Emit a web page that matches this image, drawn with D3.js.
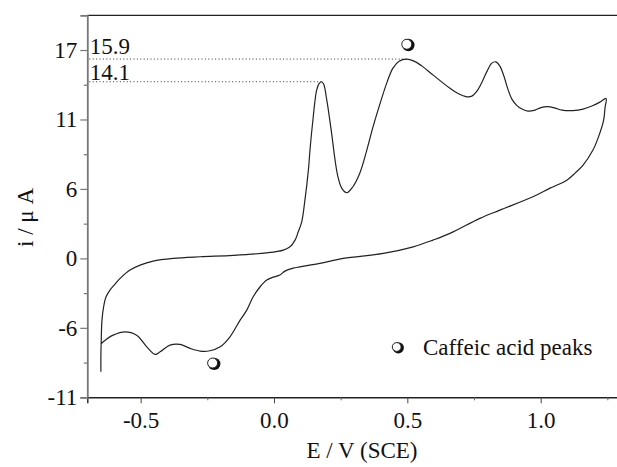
<!DOCTYPE html>
<html><head><meta charset="utf-8">
<script src="https://cdn.jsdelivr.net/npm/d3@7"></script>
<style>
body{margin:0;background:#fff}
svg text{font-family:"Liberation Serif","Tinos","Times New Roman",Times,"DejaVu Serif",serif !important;fill:#111}
</style>
</head><body>
<svg id="c" width="617" height="467"></svg>
<script>
// Forward (anodic) scan
const forwardE=[-0.649,-0.649,-0.648,-0.645,-0.639,-0.630,-0.615,-0.596,-0.577,-0.540,-0.502,-0.453,-0.378,-0.277,-0.153,-0.027,0.035,0.060,0.079,0.091,0.104,0.116,0.129,0.135,0.144,0.160,0.169,0.178,0.186,0.198,0.216,0.229,0.240,0.254,0.273,0.296,0.322,0.348,0.371,0.397,0.424,0.446,0.469,0.498,0.525,0.555,0.597,0.660,0.690,0.723,0.742,0.761,0.780,0.799,0.817,0.832,0.847,0.862,0.877,0.892,0.911,0.930,0.952,0.979,1.001,1.027,1.054,1.080,1.121,1.159,1.192,1.222,1.245];
const forwardI=[-9.80,-8.35,-7.32,-5.33,-4.21,-3.34,-2.74,-2.22,-1.73,-1.01,-0.58,-0.23,0.00,0.14,0.26,0.48,0.72,1.00,1.58,2.30,3.16,5.04,7.63,9.36,11.52,14.54,15.10,15.26,15.06,13.67,10.82,8.49,7.02,6.07,5.67,6.19,7.37,9.36,11.34,13.33,15.23,16.44,17.04,17.22,17.04,16.61,15.83,14.69,14.24,13.96,14.02,14.45,15.23,16.18,16.87,16.98,16.61,15.75,14.62,13.76,13.20,12.90,12.72,12.81,13.03,13.11,12.98,12.81,12.77,12.90,13.16,13.50,13.82];
// Reverse (cathodic) scan
const reverseE=[1.241,1.236,1.215,1.196,1.159,1.129,1.098,1.035,0.971,0.847,0.772,0.660,0.596,0.522,0.410,0.260,0.172,0.097,0.072,0.041,0.022,-0.003,-0.027,-0.052,-0.078,-0.102,-0.127,-0.165,-0.202,-0.240,-0.277,-0.315,-0.352,-0.390,-0.427,-0.446,-0.477,-0.515,-0.559,-0.603,-0.640,-0.649];
const reverseI=[12.98,11.95,10.39,9.36,8.06,7.37,6.76,6.07,5.32,4.17,3.46,2.16,1.58,1.00,0.43,0.00,-0.43,-0.73,-0.84,-1.10,-1.44,-1.62,-1.87,-2.45,-3.32,-4.47,-5.33,-6.77,-7.64,-7.98,-8.01,-7.77,-7.43,-7.49,-8.07,-8.29,-7.64,-6.63,-6.34,-6.63,-7.20,-7.40];

// Ticks
const xTickValues=[-0.5,0.0,0.5,1.0];
const xTickLabels=["-0.5","0.0","0.5","1.0"];
const xMinorTicks=[-0.25,0.25,0.75,1.25];
const yTickValues=[-12,-6,0,6,12,18];
const yTickLabels=["-11","-6","0","6","11","17"];
const yMinorTicks=[-9,-3,3,9,15];

// Peak annotations
const peakLabels=["15.9","14.1"];
const peakE=[0.498,0.178];
const peakI=[17.22,15.26];
const peakLabelLift=[5.5,1.5];

// Caffeic acid peak markers
const markerE=[0.499,-0.229];
const markerI=[18.5,-9.04];
const legendLabel="Caffeic acid peaks";

const svg=d3.select("#c");
const x=d3.scaleLinear().domain([-0.7,1.3]).range([87.3,620.7]);
const y=d3.scaleLinear().domain([-12,21]).range([397.3,15.3]);
const FS=23;
const FONT='"Liberation Serif","Tinos","Times New Roman",Times,"DejaVu Serif",serif';

// top frame
svg.append("line").attr("x1",x(-0.7)).attr("x2",x(1.3)).attr("y1",y(21)).attr("y2",y(21))
  .attr("stroke","#222").attr("stroke-width",1.3);

// dotted peak lines
peakLabels.forEach((lab,i)=>{
  svg.append("line").attr("x1",x(-0.7)+2).attr("x2",x(peakE[i])).attr("y1",y(peakI[i])).attr("y2",y(peakI[i]))
    .attr("stroke","#333").attr("stroke-width",1).attr("stroke-dasharray","1,2.4");
  svg.append("text").attr("x",x(-0.7)+2.5).attr("y",y(peakI[i])-peakLabelLift[i])
    .attr("font-size",FS).style("font-family",FONT).text(lab);
});

// curve
const pts=forwardE.map((e,i)=>[e,forwardI[i]]).concat(reverseE.map((e,i)=>[e,reverseI[i]]));
const line=d3.line().x(d=>x(d[0])).y(d=>y(d[1])).curve(d3.curveCatmullRom.alpha(0.5));
svg.append("path").attr("d",line(pts)).attr("fill","none").attr("stroke","#222").attr("stroke-width",1.2);

// axes
const xAxis=svg.append("g").attr("transform",`translate(0,${y(-12)})`)
  .call(d3.axisBottom(x).tickValues(xTickValues).tickSize(6).tickPadding(8).tickFormat((d,i)=>xTickLabels[i]));
xAxis.attr("font-family",null);
xAxis.select(".domain").attr("stroke","#222").attr("stroke-width",1.4);
xAxis.selectAll(".tick line").attr("stroke","#444").attr("stroke-width",1);
xAxis.selectAll("text").attr("font-size",FS).style("font-family",FONT).attr("fill","#111");
const xMinor=svg.append("g").attr("transform",`translate(0,${y(-12)})`)
  .call(d3.axisBottom(x).tickValues(xMinorTicks).tickSize(3).tickFormat(""));
xMinor.select(".domain").remove();
xMinor.selectAll(".tick line").attr("stroke","#666");

const yAxis=svg.append("g").attr("transform",`translate(${x(-0.7)},0)`)
  .call(d3.axisLeft(y).tickValues(yTickValues).tickSize(7).tickPadding(3).tickFormat((d,i)=>yTickLabels[i]));
yAxis.attr("font-family",null);
yAxis.select(".domain").attr("stroke","#777").attr("stroke-width",1.8);
yAxis.selectAll(".tick line").attr("stroke","#777").attr("stroke-width",1.2);
yAxis.selectAll("text").attr("font-size",FS).style("font-family",FONT).attr("fill","#111");
const yMinor=svg.append("g").attr("transform",`translate(${x(-0.7)},0)`)
  .call(d3.axisLeft(y).tickValues(yMinorTicks).tickSize(3.5).tickFormat(""));
yMinor.select(".domain").remove();
yMinor.selectAll(".tick line").attr("stroke","#777").attr("stroke-width",1.2);

// axis titles
svg.append("text").attr("x",362).attr("y",458).attr("text-anchor","middle").attr("font-size",FS).style("font-family",FONT).text("E / V (SCE)");
svg.append("text").attr("transform","translate(33,217.5) rotate(-90)").attr("text-anchor","middle").attr("font-size",FS).style("font-family",FONT).text("i / μ A");

// marker
function marker(g,cx,cy,r){
  g.append("circle").attr("cx",cx+1.3).attr("cy",cy+0.8).attr("r",r+0.6).attr("fill","#111");
  g.append("circle").attr("cx",cx-0.3).attr("cy",cy).attr("r",r-0.6).attr("fill","#fff").attr("stroke","#222").attr("stroke-width",1);
}
markerE.forEach((e,i)=>marker(svg,x(e),y(markerI[i]),5.6));
marker(svg,397,347,5);
svg.append("text").attr("x",423).attr("y",355).attr("font-size",FS).style("font-family",FONT).text(legendLabel);
</script>
</body></html>
